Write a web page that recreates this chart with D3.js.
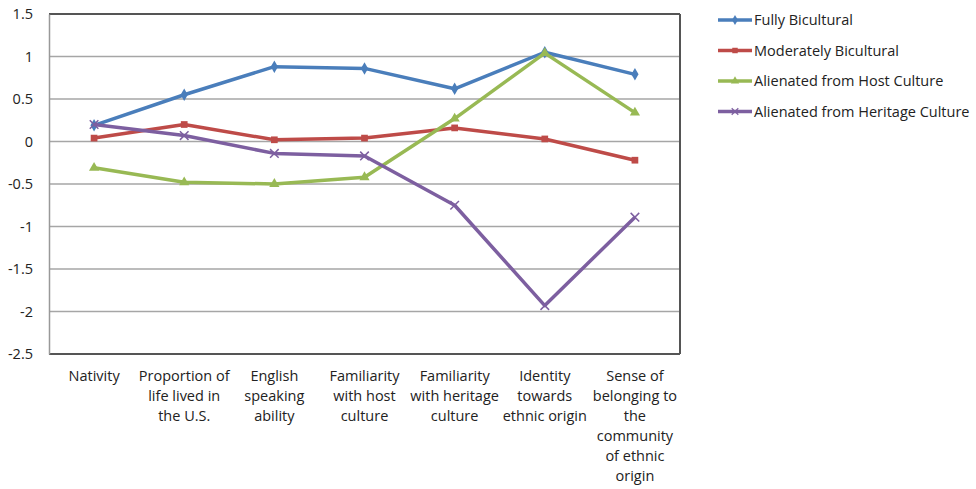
<!DOCTYPE html>
<html>
<head>
<meta charset="utf-8">
<script src="https://cdn.jsdelivr.net/npm/d3@7"></script>
<style>
  body { margin: 0; background: #fff; }
  svg text { font-family: "Open Sans", "Liberation Sans", sans-serif; fill: #222; }
</style>
</head>
<body>
<svg id="chart" width="976" height="489"></svg>
<script>
const categories = [
  ["Nativity"],
  ["Proportion of", "life lived in", "the U.S."],
  ["English", "speaking", "ability"],
  ["Familiarity", "with host", "culture"],
  ["Familiarity", "with heritage", "culture"],
  ["Identity", "towards", "ethnic origin"],
  ["Sense of", "belonging to", "the", "community", "of ethnic", "origin"]
];
const seriesNames = ["Fully Bicultural", "Moderately Bicultural", "Alienated from Host Culture", "Alienated from Heritage Culture"];
const fullyBicultural = [0.19, 0.55, 0.88, 0.86, 0.62, 1.05, 0.79];
const moderatelyBicultural = [0.04, 0.20, 0.02, 0.04, 0.16, 0.03, -0.22];
const alienatedHost = [-0.31, -0.48, -0.50, -0.42, 0.27, 1.04, 0.34];
const alienatedHeritage = [0.20, 0.07, -0.14, -0.17, -0.75, -1.93, -0.89];
const yTicks = [1.5, 1, 0.5, 0, -0.5, -1, -1.5, -2, -2.5];

const colors = ["#4a7ebb", "#be4b48", "#98b954", "#7d5fa0"];
const symbols = [d3.symbolDiamond, d3.symbolSquare, d3.symbolTriangle, d3.symbolX];
const allSeries = [fullyBicultural, moderatelyBicultural, alienatedHost, alienatedHeritage];

const svg = d3.select("#chart");
const plotL = 49, plotR = 680, plotT = 14, plotB = 354;

const x = d3.scaleBand().domain(d3.range(categories.length)).range([plotL, plotR]);
const y = d3.scaleLinear().domain([-2.5, 1.5]).range([plotB, plotT]);

// gridlines
svg.append("g")
  .selectAll("line")
  .data(yTicks.filter(t => t !== 1.5 && t !== -2.5))
  .join("line")
    .attr("x1", plotL).attr("x2", plotR)
    .attr("y1", d => y(d)).attr("y2", d => y(d))
    .attr("stroke", "#a6a6a6")
    .attr("stroke-width", 1.5);

// frame
svg.append("line").attr("x1", plotL).attr("x2", plotR).attr("y1", plotT).attr("y2", plotT)
  .attr("stroke", "#555").attr("stroke-width", 2);
svg.append("line").attr("x1", plotL).attr("x2", plotR).attr("y1", plotB).attr("y2", plotB)
  .attr("stroke", "#555").attr("stroke-width", 2);
svg.append("line").attr("x1", plotR).attr("x2", plotR).attr("y1", plotT).attr("y2", plotB)
  .attr("stroke", "#555").attr("stroke-width", 2);

// y axis
const yAxis = svg.append("g")
  .attr("transform", `translate(${plotL},0)`)
  .call(d3.axisLeft(y).tickValues(yTicks).tickFormat(d => String(d)).tickSize(0).tickPadding(16));
yAxis.select(".domain").attr("stroke", "#999").attr("stroke-width", 1.5);
yAxis.selectAll("text").style("font-size", "14.5px").attr("fill", "#222");

// x labels
const xl = svg.append("g")
  .selectAll("text")
  .data(categories)
  .join("text")
    .attr("text-anchor", "middle")
    .attr("y", 381)
    .style("font-size", "14.5px");
xl.each(function(lines, i) {
  d3.select(this).selectAll("tspan")
    .data(lines)
    .join("tspan")
      .attr("x", x(i) + x.bandwidth() / 2)
      .attr("dy", (d, j) => j === 0 ? 0 : 20)
      .text(d => d);
});

// lines
const line = d3.line()
  .x((d, i) => x(i) + x.bandwidth() / 2)
  .y(d => y(d));

allSeries.forEach((vals, s) => {
  const g = svg.append("g");
  g.append("path")
    .datum(vals)
    .attr("d", line)
    .attr("fill", "none")
    .attr("stroke", colors[s])
    .attr("stroke-width", 3.5)
    .attr("stroke-linejoin", "round");
  g.selectAll("path.m")
    .data(vals)
    .join("path")
      .attr("class", "m")
      .attr("transform", (d, i) => `translate(${x(i) + x.bandwidth() / 2},${y(d)})`)
      .attr("d", d3.symbol(symbols[s], s === 3 ? 50 : 45))
      .attr("fill", colors[s])
      .attr("stroke", colors[s])
      .attr("stroke-width", s === 3 ? 1.5 : 0);
});

// legend
const legend = svg.append("g").attr("transform", "translate(718,20)");
seriesNames.forEach((name, s) => {
  const row = legend.append("g").attr("transform", `translate(0,${s * 30.5})`);
  row.append("line").attr("x1", 0).attr("x2", 34).attr("y1", 0).attr("y2", 0)
    .attr("stroke", colors[s]).attr("stroke-width", 3.5);
  row.append("path").attr("transform", "translate(17,0)")
    .attr("d", d3.symbol(symbols[s], 30))
    .attr("fill", colors[s]).attr("stroke", colors[s]).attr("stroke-width", s === 3 ? 1.2 : 0);
  row.append("text").attr("x", 36).attr("y", 5).style("font-size", "14.5px").text(name);
});
</script>
</body>
</html>
